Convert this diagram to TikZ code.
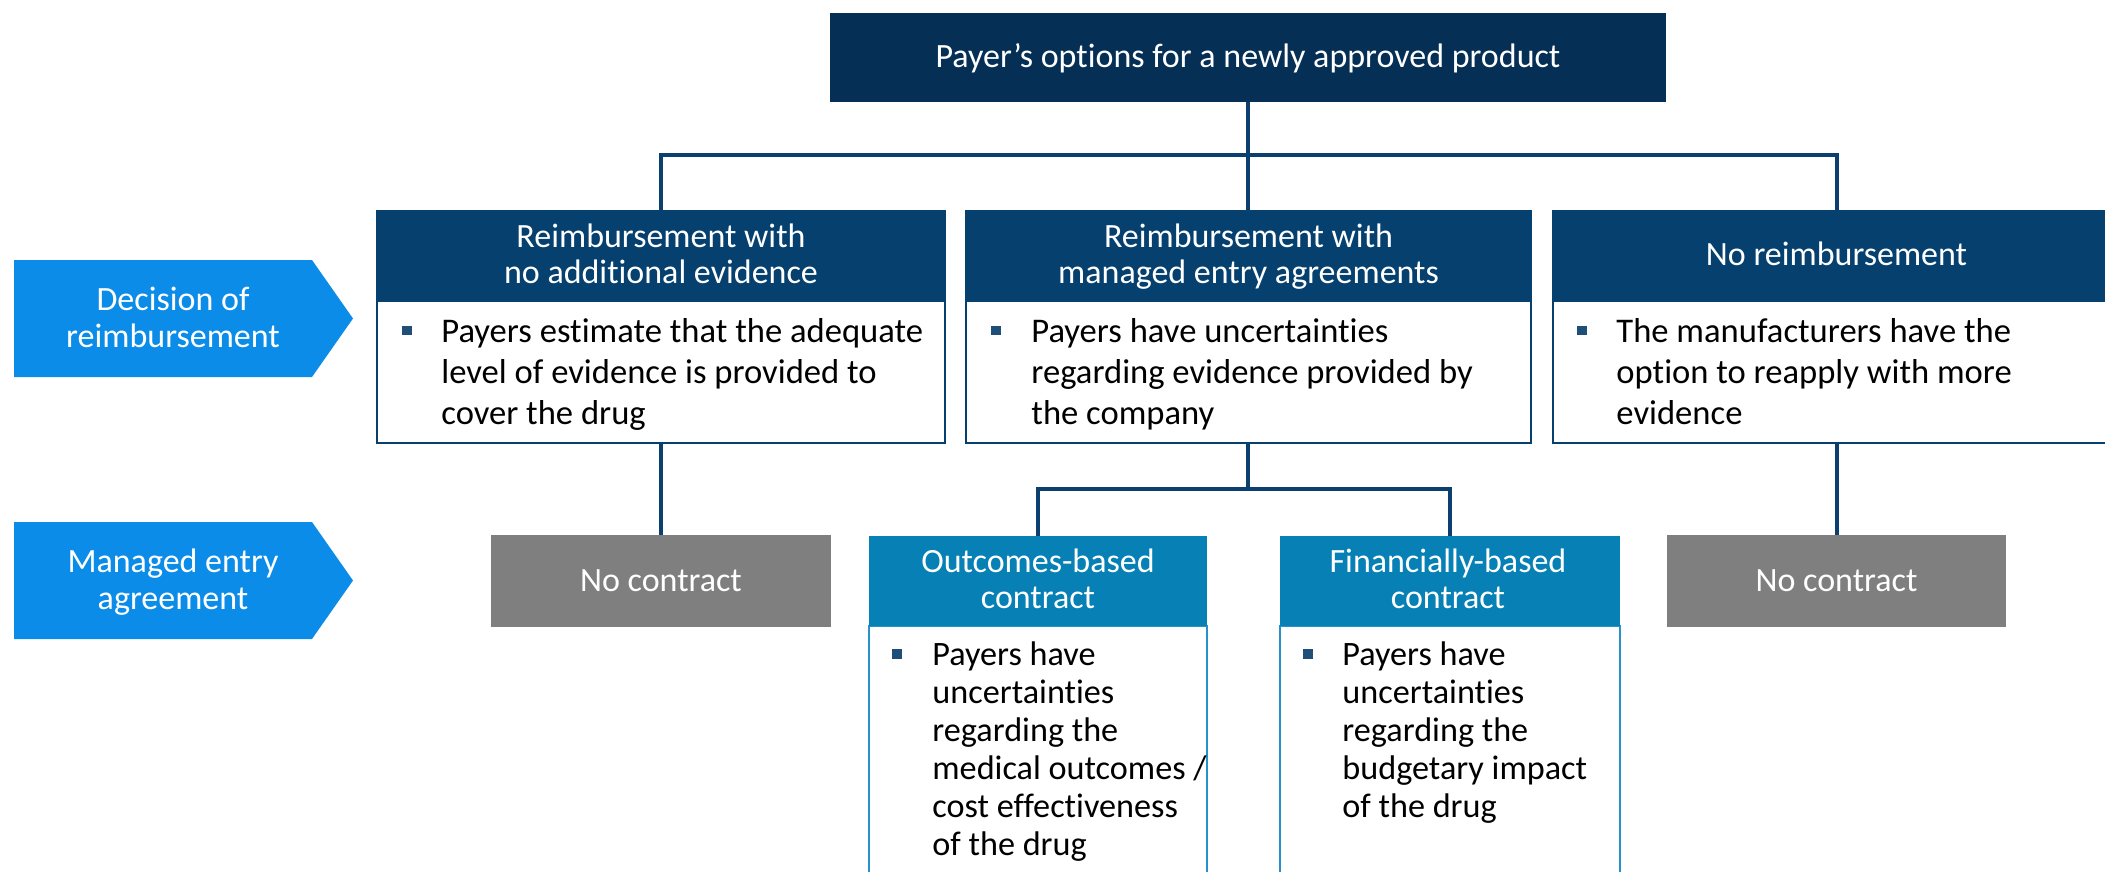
\documentclass[tikz,border=0pt]{standalone}
\usepackage{fontspec}
\setmainfont{Carlito}[Ligatures=NoCommon]
\definecolor{topc}{HTML}{062F56}
\definecolor{hdrc}{HTML}{05406F}
\definecolor{connc}{HTML}{0B3F70}
\definecolor{ctrc}{HTML}{0680B5}
\definecolor{cbord}{HTML}{2592CB}
\definecolor{grayc}{HTML}{7F7F7F}
\definecolor{arrowc}{HTML}{0C8CE9}
\definecolor{bulletc}{HTML}{1F4E79}
\newcommand{\lstack}[1]{\vtop{\halign{##\hfil\cr#1\crcr}}}
\newcommand{\cstack}[1]{\vtop{\halign{\hfil##\hfil\cr#1\crcr}}}
\begin{document}
\begin{tikzpicture}[x=0.5pt,y=-0.5pt,
  conn/.style={draw=connc, line width=2pt},
  box/.style={rectangle, inner sep=0pt, outer sep=0pt},
  topbox/.style={box, fill=topc},
  hdr/.style={box, fill=hdrc, draw=hdrc, line width=1pt, minimum height=45pt},
  bodybox/.style={box, fill=white, draw=hdrc, line width=1pt, minimum height=71pt},
  ctrhdr/.style={box, fill=ctrc, minimum height=45pt},
  ctrbody/.style={box, fill=white, draw=cbord, line width=1pt, minimum height=137pt},
  nobox/.style={box, fill=grayc, minimum height=46pt},
  bullet/.style={box, fill=bulletc, minimum size=4.75pt},
  wtxt/.style={inner sep=0pt, text=white, font=\fontsize{17}{18}\selectfont},
  btxt/.style={inner sep=0pt, text=black, anchor=base west, font=\fontsize{17.3}{20.5}\selectfont},
  ctxt/.style={inner sep=0pt, text=black, anchor=base west, font=\fontsize{17.1}{19}\selectfont}
]
\useasboundingbox (0,0) rectangle (2105,872);
\clip (0,0) rectangle (2105,872);

% side arrows
\fill[arrowc] (14,260) -- (312,260) -- (353,318.5) -- (312,377) -- (14,377) -- cycle;
\node[wtxt, anchor=base, font=\fontsize{17}{18.5}\selectfont] (a1) at (173,310) {\cstack{Decision of\cr reimbursement}};
\fill[arrowc] (14,522) -- (312,522) -- (353,580.5) -- (312,639) -- (14,639) -- cycle;
\node[wtxt, anchor=base, font=\fontsize{17}{18.5}\selectfont] (a2) at (173,572) {\cstack{Managed entry\cr agreement}};

% top
\node[topbox, minimum width=418pt, minimum height=44.5pt] (top) at (1248,57.5) {};
\node[wtxt, anchor=base] (toptxt) at (1248,68) {Payer’s options for a newly approved product};

% level 2
\node[bodybox, minimum width=284pt] (b1) at (661,372) {};
\node[hdr, minimum width=284pt] (h1) at (661,256) {};
\node[bodybox, minimum width=282.5pt] (b2) at (1248.5,372) {};
\node[hdr, minimum width=282.5pt] (h2) at (1248.5,256) {};
\node[bodybox, minimum width=283.5pt] (b3) at (1836.5,372) {};
\node[hdr, minimum width=283.5pt] (h3) at (1836.5,256) {};

\node[wtxt, anchor=base] (h1t) at (661,247) {\cstack{Reimbursement with\cr no additional evidence}};
\node[wtxt, anchor=base] (h2t) at (1248.5,247) {\cstack{Reimbursement with\cr managed entry agreements}};
\node[wtxt, anchor=base] (h3t) at (1836.5,265) {No reimbursement};

\node[bullet] (bu1) at (407,330.5) {};
\node[btxt] (b1t) at (441,342) {\lstack{Payers estimate that the adequate\cr level of evidence is provided to\cr cover the drug}};
\node[bullet] (bu2) at (996,330.5) {};
\node[btxt] (b2t) at (1031,342) {\lstack{Payers have uncertainties\cr regarding evidence provided by\cr the company}};
\node[bullet] (bu3) at (1582,330.5) {};
\node[btxt] (b3t) at (1616,342) {\lstack{The manufacturers have the\cr option to reapply with more\cr evidence}};

% level 3
\node[nobox, minimum width=170pt] (nc1) at (661,581) {};
\node[wtxt, anchor=base] (nc1t) at (661,591) {No contract};
\node[nobox, minimum width=169.5pt] (nc2) at (1836.5,581) {};
\node[wtxt, anchor=base] (nc2t) at (1836.5,591) {No contract};

\node[ctrbody, minimum width=169pt] (ob) at (1038,763) {};
\node[ctrhdr, minimum width=169pt] (oh) at (1038,581) {};
\node[ctrbody, minimum width=170pt] (fb) at (1450,763) {};
\node[ctrhdr, minimum width=170pt] (fh) at (1450,581) {};

\node[wtxt, anchor=base] (oht) at (1038,572) {\cstack{Outcomes-based\cr contract}};
\node[wtxt, anchor=base] (fht) at (1448,572) {\cstack{Financially-based\cr contract}};

\node[bullet] (bu4) at (897,654) {};
\node[ctxt] (obt) at (932,665) {\lstack{Payers have\cr uncertainties\cr regarding the\cr medical outcomes /\cr cost effectiveness\cr of the drug}};
\node[bullet] (bu5) at (1308,654) {};
\node[ctxt] (fbt) at (1342,665) {\lstack{Payers have\cr uncertainties\cr regarding the\cr budgetary impact\cr of the drug}};

% connectors
\coordinate (bus) at (1248,155.5);
\coordinate (bus2) at (1248,489);
\draw[conn] (top.south) -- (top.south |- h2.north);
\draw[conn] (h1.north) |- (bus) -| (h3.north);
\draw[conn] (b1.south) -- (nc1.north);
\draw[conn] (b3.south) -- (nc2.north);
\draw[conn] (b2.south -| bus2) -- (bus2);
\draw[conn] (oh.north) |- (bus2) -| (fh.north);
\end{tikzpicture}
\end{document}
